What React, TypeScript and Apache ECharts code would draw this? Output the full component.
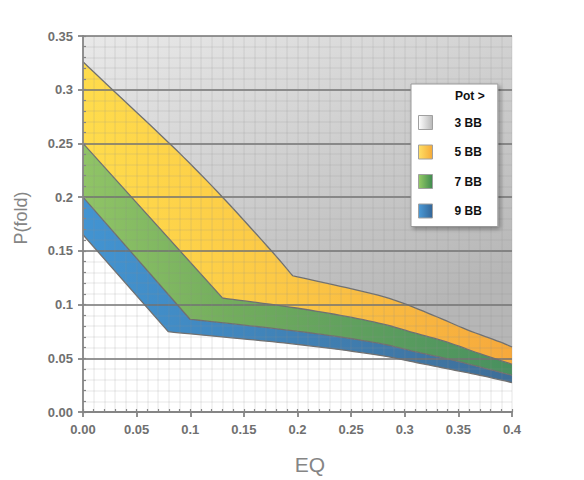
import React, { useEffect, useRef } from 'react';
import * as echarts from 'echarts';

// Boundary lines (EQ, P(fold))
const topLine: number[][] = [[0, 0.35], [0.4, 0.35]];
const line5BB: number[][] = [
  [0, 0.326], [0.028, 0.2995], [0.0873, 0.2436], [0.131, 0.199], [0.176, 0.1496],
  [0.1955, 0.1268], [0.24, 0.117], [0.2863, 0.1055], [0.3266, 0.09], [0.3578, 0.0767],
  [0.3888, 0.0652], [0.4, 0.0605],
];
const line7BB: number[][] = [
  [0, 0.25], [0.1302, 0.106], [0.1464, 0.104], [0.193, 0.0977], [0.24, 0.09],
  [0.28, 0.0818], [0.308, 0.0739], [0.339, 0.0652], [0.37, 0.0543], [0.4, 0.0444],
];
const line9BB: number[][] = [
  [0, 0.2], [0.0998, 0.0863], [0.1464, 0.0813], [0.193, 0.076], [0.24, 0.0698],
  [0.28, 0.0632], [0.308, 0.0565], [0.339, 0.0497], [0.37, 0.0419], [0.4, 0.0342],
];
const lineBottom: number[][] = [
  [0, 0.165], [0.0795, 0.0747], [0.1464, 0.0683], [0.193, 0.0637], [0.24, 0.058],
  [0.28, 0.0522], [0.308, 0.0466], [0.339, 0.0404], [0.37, 0.0342], [0.4, 0.0274],
];
// index of the corner point in each boundary (curves are smoothed on each side of it)
const kinkTop = 1;
const kink5BB = 5;
const kink7BB = 1;
const kink9BB = 1;
const kinkBottom = 1;

const seriesNames = ['3 BB', '5 BB', '7 BB', '9 BB'];
const xMin = 0, xMax = 0.4, xStep = 0.05;
const yMin = 0, yMax = 0.35, yStep = 0.05;
const legendTitle = 'Pot >';
const xName = 'EQ';
const yName = 'P(fold)';

const FONT = '"Liberation Sans", Arial, sans-serif';
const EDGE = '#707070';
const lg = (x2: number, y2: number, stops: [number, string][]) =>
  new echarts.graphic.LinearGradient(0, 0, x2, y2, stops.map(([offset, color]) => ({ offset, color })));

const bandFills = [
  lg(0.6, 1, [[0, '#e9e9e9'], [1, '#b6b6b6']]),
  lg(1, 0, [[0, '#ffdc4c'], [0.45, '#fcc946'], [1, '#f6a93c']]),
  lg(1, 0, [[0, '#90c466'], [0.35, '#72ad5d'], [1, '#48905f']]),
  lg(1, 0, [[0, '#4294d2'], [1, '#3e6e98']]),
];
const legendFills = [
  lg(1, 0, [[0, '#ffffff'], [1, '#b8b8b8']]),
  lg(1, 0, [[0, '#ffe066'], [1, '#f5aa38']]),
  lg(1, 0, [[0, '#96cc66'], [1, '#3f8a4f']]),
  lg(1, 0, [[0, '#4b9bd8'], [1, '#336597']]),
];

// Catmull-Rom through pixel points (drawing only)
function catmull(pts: number[][], steps = 8): number[][] {
  if (pts.length < 3) return pts;
  const out: number[][] = [pts[0]];
  for (let i = 0; i < pts.length - 1; i++) {
    const p0 = pts[i - 1] || pts[i];
    const p1 = pts[i];
    const p2 = pts[i + 1];
    const p3 = pts[i + 2] || pts[i + 1];
    for (let s = 1; s <= steps; s++) {
      const t = s / steps, t2 = t * t, t3 = t2 * t;
      const f = (a: number, b: number, c: number, d: number) =>
        0.5 * (2 * b + (-a + c) * t + (2 * a - 5 * b + 4 * c - d) * t2 + (-a + 3 * b - 3 * c + d) * t3);
      out.push([f(p0[0], p1[0], p2[0], p3[0]), f(p0[1], p1[1], p2[1], p3[1])]);
    }
  }
  return out;
}
function pathOf(px: number[][], kink: number): number[][] {
  const a = catmull(px.slice(0, kink + 1));
  const b = catmull(px.slice(kink));
  return a.concat(b.slice(1));
}

function makeBand(
  i: number, upper: number[][], upperKink: number, lower: number[][], lowerKink: number,
  drawUpper: boolean, drawLower: boolean,
) {
  return {
    type: 'custom',
    name: seriesNames[i],
    coordinateSystem: 'cartesian2d',
    xAxisIndex: 0,
    yAxisIndex: 0,
    z: 2,
    silent: true,
    itemStyle: { color: legendFills[i] },
    data: [[upper[0][0], upper[0][1]]],
    renderItem: (_params: any, api: any) => {
      const up = pathOf(upper.map((p) => api.coord(p)), upperKink);
      const lo = pathOf(lower.map((p) => api.coord(p)), lowerKink);
      const children: any[] = [
        { type: 'polygon', shape: { points: up.concat(lo.slice().reverse()) }, style: { fill: bandFills[i], stroke: null } },
      ];
      if (drawUpper) children.push({ type: 'polyline', shape: { points: up }, style: { stroke: EDGE, lineWidth: 1.3, fill: null } });
      if (drawLower) children.push({ type: 'polyline', shape: { points: lo }, style: { stroke: EDGE, lineWidth: 1.3, fill: null } });
      return { type: 'group', children };
    },
  };
}

const fmt = (v: number) => (v === 0 ? '0.00' : String(Math.round(v * 100) / 100));

export default function App() {
  const ref = useRef<HTMLDivElement>(null);
  useEffect(() => {
    document.body.style.margin = '0';
    const chart = echarts.init(ref.current as HTMLDivElement, null, { renderer: 'svg' });
    const axisLineStyle = { color: '#858585', width: 1.8 };
    const labelStyle = { color: '#707070', fontFamily: FONT, fontWeight: 'bold' as const, fontSize: 13 };
    const gridLine = { color: 'rgba(140,140,140,0.14)', width: 1.6 };
    chart.setOption({
      animation: false,
      grid: { left: 83, right: 72, top: 36, bottom: 68, containLabel: false },
      legend: {
        orient: 'vertical',
        left: 411,
        top: 84,
        backgroundColor: '#ffffff',
        borderColor: '#9a9a9a',
        borderWidth: 1,
        borderRadius: 0,
        padding: [31, 16, 8, 7],
        itemWidth: 14,
        itemHeight: 14,
        itemGap: 14.5,
        icon: 'rect',
        selectedMode: false,
        shadowBlur: 4,
        shadowOffsetX: 2,
        shadowOffsetY: 2,
        shadowColor: 'rgba(0,0,0,0.35)',
        textStyle: { color: '#111', fontFamily: FONT, fontWeight: 'bold', fontSize: 12, lineHeight: 14, padding: [0, 0, 0, 17] },
        data: seriesNames.map((name, i) => ({
          name,
          icon: 'rect',
          itemStyle: { color: legendFills[i], borderColor: '#a0a0a0', borderWidth: 1 },
        })),
      },
      graphic: [
        {
          type: 'text',
          left: 455,
          top: 90,
          z: 100,
          style: { text: legendTitle, font: `bold 12px ${FONT}`, fill: '#111' },
        },
        {
          type: 'text',
          x: 310,
          y: 464,
          z: 100,
          style: { text: xName, font: `21px ${FONT}`, fill: '#858585', align: 'center', verticalAlign: 'middle' },
        },
        {
          type: 'text',
          x: 21,
          y: 218,
          rotation: Math.PI / 2,
          z: 100,
          style: { text: yName, font: `18px ${FONT}`, fill: '#858585', align: 'center', verticalAlign: 'middle' },
        },
      ],
      xAxis: [
        {
          type: 'value',
          min: xMin,
          max: xMax,
          interval: xStep,
          position: 'bottom',
          z: 3,
          axisLine: { show: true, lineStyle: axisLineStyle },
          axisTick: { show: true, length: 5, lineStyle: axisLineStyle },
          axisLabel: { ...labelStyle, margin: 11, formatter: fmt },
          splitLine: { show: true, lineStyle: gridLine },
          minorTick: { show: false, splitNumber: 5 },
          minorSplitLine: { show: true, lineStyle: gridLine },
        },
        {
          type: 'value',
          min: xMin,
          max: xMax,
          interval: 0.01,
          position: 'bottom',
          z: 3,
          axisLine: { show: false },
          axisTick: { show: true, inside: true, length: 3, lineStyle: { color: '#858585', width: 1.2 } },
          axisLabel: { show: false },
          splitLine: { show: false },
        },
      ],
      yAxis: [
        {
          type: 'value',
          min: yMin,
          max: yMax,
          interval: yStep,
          position: 'left',
          z: 3,
          axisLine: { show: true, lineStyle: axisLineStyle },
          axisTick: { show: true, length: 5, lineStyle: axisLineStyle },
          axisLabel: { ...labelStyle, margin: 10, formatter: fmt },
          splitLine: { show: true, lineStyle: { color: '#727272', width: 1.5 } },
          minorTick: { show: false, splitNumber: 5 },
          minorSplitLine: { show: true, lineStyle: gridLine },
        },
        {
          type: 'value',
          min: yMin,
          max: yMax,
          interval: 0.01,
          position: 'left',
          z: 3,
          axisLine: { show: false },
          axisTick: { show: true, inside: true, length: 3, lineStyle: { color: '#858585', width: 1.2 } },
          axisLabel: { show: false },
          splitLine: { show: false },
        },
      ],
      series: [
        makeBand(0, topLine, kinkTop, line5BB, kink5BB, false, false),
        makeBand(1, line5BB, kink5BB, line7BB, kink7BB, true, false),
        makeBand(2, line7BB, kink7BB, line9BB, kink9BB, true, false),
        makeBand(3, line9BB, kink9BB, lineBottom, kinkBottom, true, true),
      ],
    });
    return () => chart.dispose();
  }, []);
  return <div ref={ref} style={{ width: 584, height: 480 }} />;
}
